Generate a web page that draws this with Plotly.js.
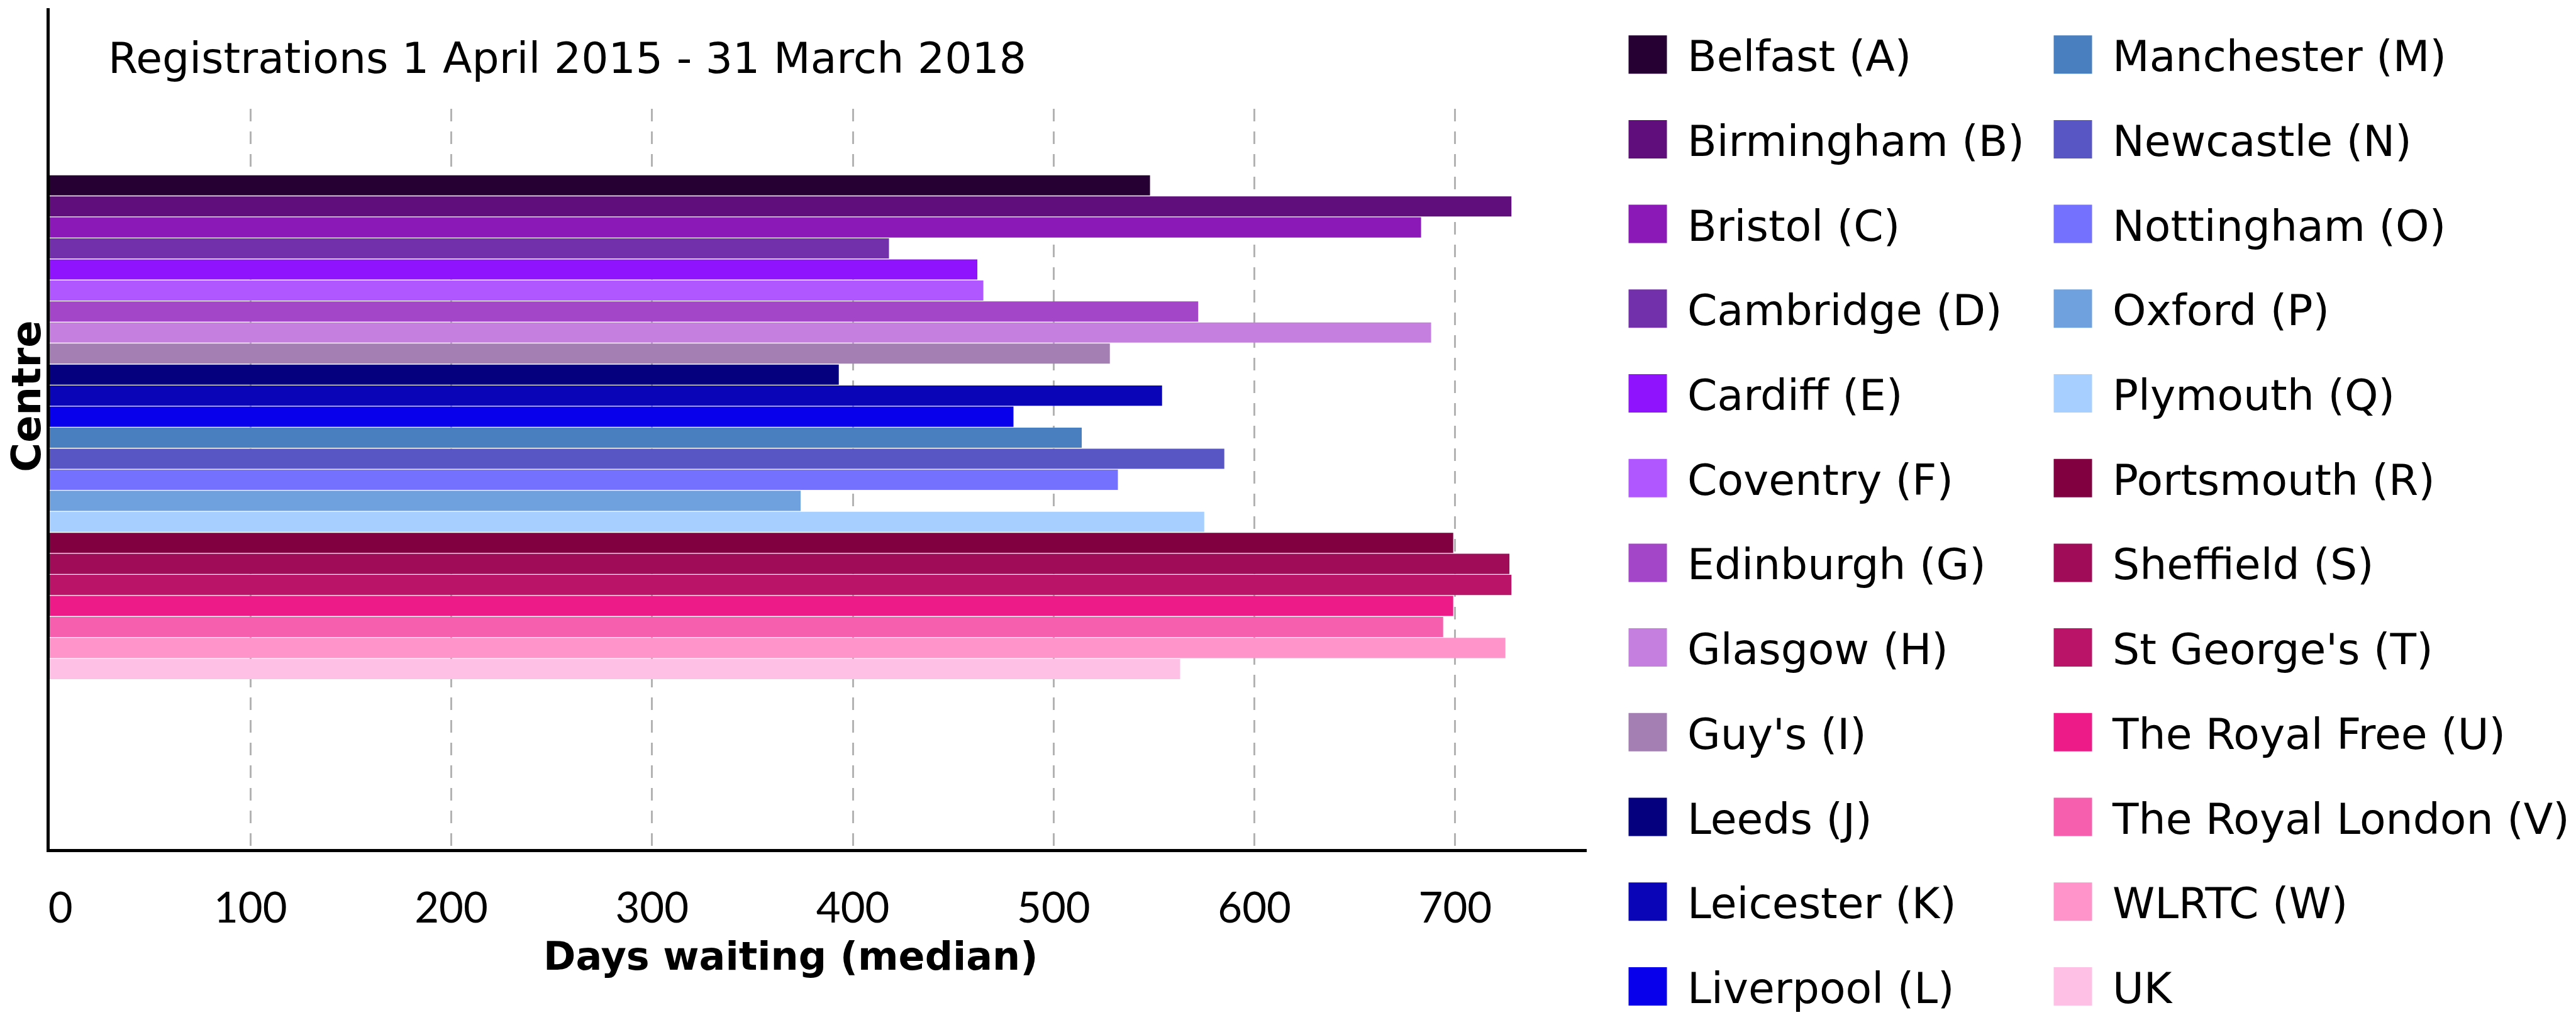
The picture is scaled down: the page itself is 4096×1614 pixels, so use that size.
<!DOCTYPE html>
<html>
<head>
<meta charset="utf-8">
<script src="https://cdn.plot.ly/plotly-3.0.1.min.js"></script>
<style>
  html, body { margin: 0; padding: 0; background: #ffffff; }
  #chart { width: 4096px; height: 1614px; }
</style>
</head>
<body>
<div id="chart"></div>
<script>
// ---- Data ----
const centres = [
  'Belfast (A)', 'Birmingham (B)', 'Bristol (C)', 'Cambridge (D)', 'Cardiff (E)', 'Coventry (F)',
  'Edinburgh (G)', 'Glasgow (H)', "Guy's (I)", 'Leeds (J)', 'Leicester (K)', 'Liverpool (L)',
  'Manchester (M)', 'Newcastle (N)', 'Nottingham (O)', 'Oxford (P)', 'Plymouth (Q)', 'Portsmouth (R)',
  'Sheffield (S)', "St George's (T)", 'The Royal Free (U)', 'The Royal London (V)', 'WLRTC (W)', 'UK'
];
const medianDays = [
  548, 728, 683, 418, 462, 465,
  572, 688, 528, 393, 554, 480,
  514, 585, 532, 374, 575, 699,
  727, 728, 699, 694, 725, 563
];
const barColors = [
  '#270033', '#5f0e7b', '#8a19b7', '#7230aa', '#9013fe', '#b057ff',
  '#a346c8', '#c47fdf', '#a47fb4', '#05007e', '#0a05b6', '#0800ea',
  '#4a7fbf', '#5856c4', '#7371fd', '#6ea1de', '#a7cfff', '#800040',
  '#a00c58', '#b91468', '#ec1b87', '#f55fae', '#ff94ca', '#ffc0e6'
];
const categoryLabel = 'Centre';
const tickVals = [0, 100, 200, 300, 400, 500, 600, 700];
const subtitleText = 'Registrations 1 April 2015 - 31 March 2018';
const xTitleText = 'Days waiting (median)';
const yTitleText = 'Centre';

// ---- Build traces ----
const data = centres.map((name, i) => ({
  type: 'bar',
  orientation: 'h',
  y: [categoryLabel],
  x: [medianDays[i]],
  name: name,
  marker: { color: barColors[i], line: { width: 0 } },
  legend: i < 12 ? 'legend' : 'legend2',
  legendgroup: 'g' + i,
  hovertemplate: name + ': %{x}<extra></extra>'
}));

// the reference nudges the "0" label a little to the right of the axis line
const tickText = tickVals.map(v => (v === 0 ? '\u00a0\u00a0' : '') + String(v));

const W = 4096, H = 1614;
const plotL = 79, plotR = 2522.7, plotT = 173, plotB = 1350.5;
const px2paperX = px => (px - plotL) / (plotR - plotL);
const px2paperY = py => (plotB - py) / (plotB - plotT);

const legendFont = { family: 'DejaVu Sans', size: 68, color: '#000000' };
const legendCommon = {
  xref: 'container', yref: 'container',
  xanchor: 'left', yanchor: 'top',
  y: 1 - 36 / H,
  font: legendFont,
  itemwidth: 116,
  tracegroupgap: 43.3,
  traceorder: 'grouped',
  bgcolor: 'rgba(0,0,0,0)',
  borderwidth: 0,
  orientation: 'v',
  maxheight: 1610
};

const layout = {
  width: W,
  height: H,
  paper_bgcolor: '#ffffff',
  plot_bgcolor: '#ffffff',
  font: { family: 'DejaVu Sans', color: '#000000' },
  margin: { l: plotL, r: W - plotR, t: plotT, b: H - plotB, autoexpand: false },
  showlegend: true,
  barmode: 'group',
  bargap: 0.3,
  bargroupgap: 0.04,
  title: {
    text: subtitleText,
    font: { family: 'DejaVu Sans', size: 68, color: '#000000' },
    xref: 'container', yref: 'container',
    x: 172 / W, xanchor: 'left',
    y: 1 - 92 / H, yanchor: 'middle'
  },
  xaxis: {
    range: [0, 765.5],
    tickmode: 'array',
    tickvals: tickVals,
    ticktext: tickText,
    ticks: '',
    tickfont: { family: 'Lato', size: 67, color: '#000000' },
    ticklabelstandoff: 32,
    showgrid: true,
    gridcolor: '#b3b3b3',
    gridwidth: 3,
    griddash: '20px,16px',
    zeroline: false,
    showline: true,
    linecolor: '#000000',
    linewidth: 5
  },
  yaxis: {
    type: 'category',
    range: [0.585, -0.4416],
    showticklabels: false,
    ticks: '',
    showgrid: false,
    zeroline: false,
    showline: true,
    linecolor: '#000000',
    linewidth: 5
  },
  legend: Object.assign({}, legendCommon, { x: 2557 / W }),
  legend2: Object.assign({}, legendCommon, { x: 3233 / W }),
  shapes: [{
    type: 'line', layer: 'above',
    xref: 'paper', yref: 'paper',
    xsizemode: 'pixel', xanchor: 0, x0: -2.5, x1: -2.5,
    y0: 0.99, y1: px2paperY(13),
    line: { color: '#000000', width: 5 }
  }],
  annotations: [
    {
      text: yTitleText,
      xref: 'paper', yref: 'paper',
      x: px2paperX(42), y: px2paperY(630),
      xanchor: 'center', yanchor: 'middle',
      textangle: -90,
      showarrow: false,
      font: { family: 'DejaVu Sans', size: 64, color: '#000000', weight: 700 }
    },
    {
      text: xTitleText,
      xref: 'paper', yref: 'paper',
      x: px2paperX(1257.5), y: px2paperY(1521),
      xanchor: 'center', yanchor: 'middle',
      showarrow: false,
      font: { family: 'DejaVu Sans', size: 62, color: '#000000', weight: 700 }
    }
  ]
};

Plotly.newPlot('chart', data, layout, { displayModeBar: false, responsive: false }).then(gd => {
  // enlarge the legend colour swatches to match the reference's large squares
  gd.querySelectorAll('.legendpoints path').forEach(p => {
    p.setAttribute('d', 'M30.5,30.5H-30.5V-30.5H30.5Z');
  });
});
</script>
</body>
</html>
